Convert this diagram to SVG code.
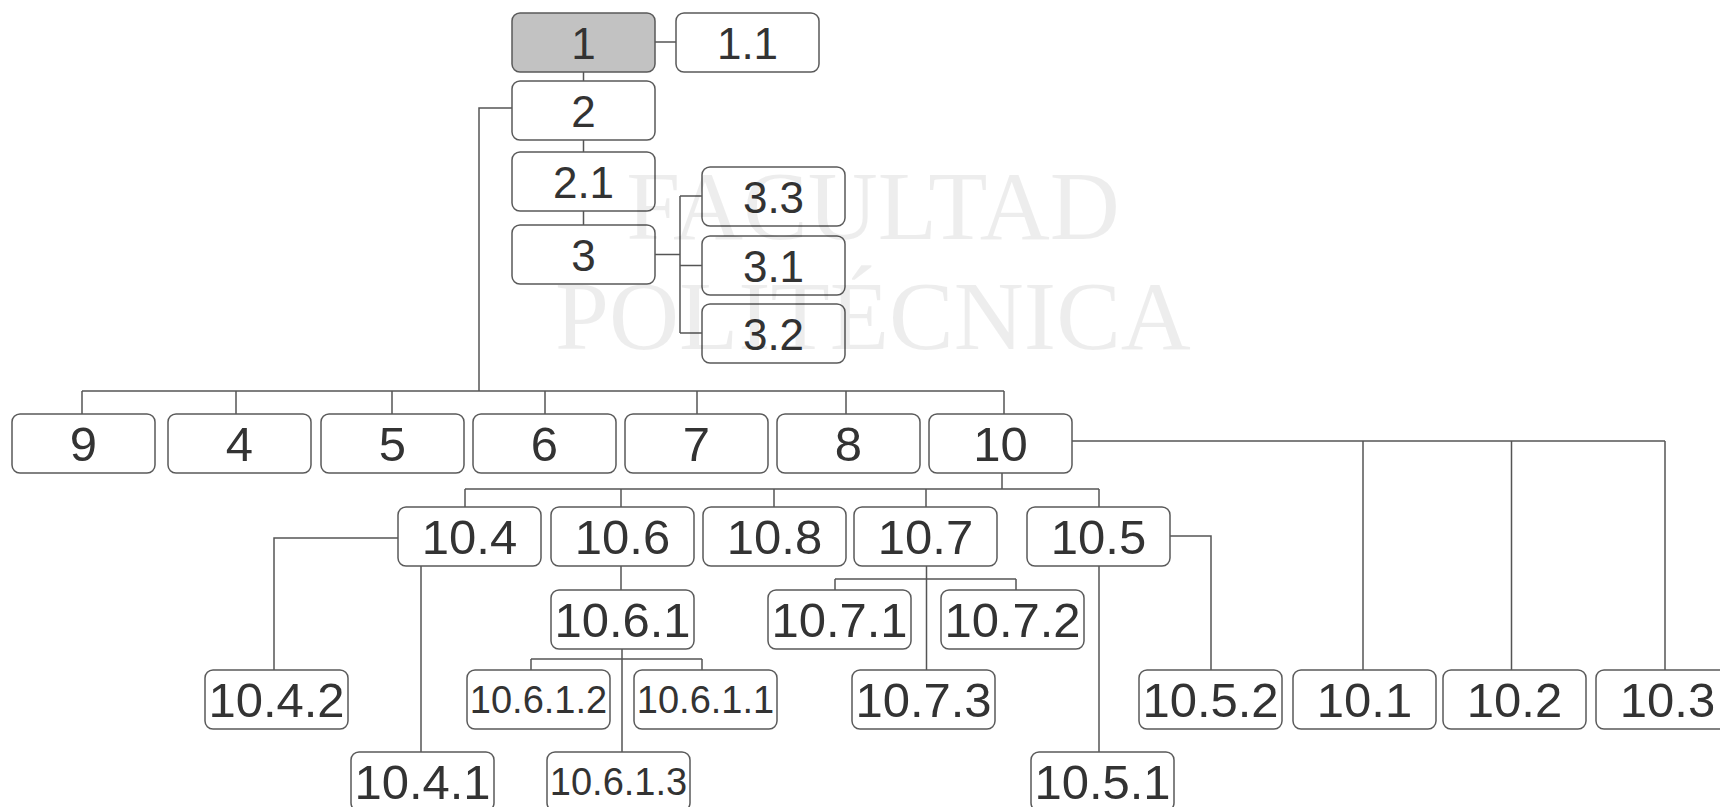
<svg xmlns="http://www.w3.org/2000/svg" width="1720" height="807" viewBox="0 0 1720 807">
<style>
.b{fill:#fff;stroke:#5a5a5a;stroke-width:1.5}
.g{fill:#c2c2c2}
.t{font-family:"Liberation Sans",Arial,sans-serif;fill:#333;text-anchor:middle}
.L{font-size:44px}
.M{font-size:49px}
.S{font-size:38px}
.c{fill:none;stroke:#555;stroke-width:1.5}
.w{font-family:"Liberation Serif","Times New Roman",serif;fill:#000;fill-opacity:0.07;text-anchor:middle;font-size:97px}
</style>
<rect width="1720" height="807" fill="#fff"/>
<g id="connectors" class="c">
<path d="M655,42H676M583.5,72V81M583.5,140V152M583.5,211V225"/>
<path d="M655,254.5H680M680,196V333M680,196H702M680,265.5H702M680,333H702"/>
<path d="M512,108H479V391M82,391H1004M82,391V414M236,391V414M392,391V414M545,391V414M697,391V414M846,391V414M1004,391V414"/>
<path d="M1002,473V489M465,489H1099M465,489V507M621,489V507M774,489V507M926,489V507M1099,489V507"/>
<path d="M398,538H274V670M421,566V752M621,566V590"/>
<path d="M622,649V752M531,659H702M531,659V670M702,659V670"/>
<path d="M926.5,566V670M835,579H1016M835,579V590M1016,579V590"/>
<path d="M1099,566V752M1169,536H1211V670"/>
<path d="M1072,441H1665M1363,441V670M1511.5,441V670M1665,441V670"/>
</g>
<g id="n1"><rect class="b g" x="512" y="13" width="143" height="59" rx="8"/><text class="t L" x="583.5" y="59">1</text></g>
<g id="n1_1"><rect class="b" x="676" y="13" width="143" height="59" rx="8"/><text class="t L" x="747.5" y="59">1.1</text></g>
<g id="n2"><rect class="b" x="512" y="81" width="143" height="59" rx="8"/><text class="t L" x="583.5" y="127">2</text></g>
<g id="n2_1"><rect class="b" x="512" y="152" width="143" height="59" rx="8"/><text class="t L" x="583.5" y="198">2.1</text></g>
<g id="n3"><rect class="b" x="512" y="225" width="143" height="59" rx="8"/><text class="t L" x="583.5" y="271">3</text></g>
<g id="n3_3"><rect class="b" x="702" y="167" width="143" height="59" rx="8"/><text class="t L" x="773.5" y="213">3.3</text></g>
<g id="n3_1"><rect class="b" x="702" y="236" width="143" height="59" rx="8"/><text class="t L" x="773.5" y="282">3.1</text></g>
<g id="n3_2"><rect class="b" x="702" y="304" width="143" height="59" rx="8"/><text class="t L" x="773.5" y="350">3.2</text></g>
<g id="n9"><rect class="b" x="12" y="414" width="143" height="59" rx="8"/><text class="t M" x="83.5" y="461">9</text></g>
<g id="n4"><rect class="b" x="168" y="414" width="143" height="59" rx="8"/><text class="t M" x="239.5" y="461">4</text></g>
<g id="n5"><rect class="b" x="321" y="414" width="143" height="59" rx="8"/><text class="t M" x="392.5" y="461">5</text></g>
<g id="n6"><rect class="b" x="473" y="414" width="143" height="59" rx="8"/><text class="t M" x="544.5" y="461">6</text></g>
<g id="n7"><rect class="b" x="625" y="414" width="143" height="59" rx="8"/><text class="t M" x="696.5" y="461">7</text></g>
<g id="n8"><rect class="b" x="777" y="414" width="143" height="59" rx="8"/><text class="t M" x="848.5" y="461">8</text></g>
<g id="n10"><rect class="b" x="929" y="414" width="143" height="59" rx="8"/><text class="t M" x="1000.5" y="461">10</text></g>
<g id="n10_4"><rect class="b" x="398" y="507" width="143" height="59" rx="8"/><text class="t M" x="469.5" y="554">10.4</text></g>
<g id="n10_6"><rect class="b" x="551" y="507" width="143" height="59" rx="8"/><text class="t M" x="622.5" y="554">10.6</text></g>
<g id="n10_8"><rect class="b" x="703" y="507" width="143" height="59" rx="8"/><text class="t M" x="774.5" y="554">10.8</text></g>
<g id="n10_7"><rect class="b" x="854" y="507" width="143" height="59" rx="8"/><text class="t M" x="925.5" y="554">10.7</text></g>
<g id="n10_5"><rect class="b" x="1027" y="507" width="143" height="59" rx="8"/><text class="t M" x="1098.5" y="554">10.5</text></g>
<g id="n10_6_1"><rect class="b" x="551" y="590" width="143" height="59" rx="8"/><text class="t M" x="622.5" y="637">10.6.1</text></g>
<g id="n10_7_1"><rect class="b" x="768" y="590" width="143" height="59" rx="8"/><text class="t M" x="839.5" y="637">10.7.1</text></g>
<g id="n10_7_2"><rect class="b" x="941" y="590" width="143" height="59" rx="8"/><text class="t M" x="1012.5" y="637">10.7.2</text></g>
<g id="n10_4_2"><rect class="b" x="205" y="670" width="143" height="59" rx="8"/><text class="t M" x="276.5" y="717">10.4.2</text></g>
<g id="n10_6_1_2"><rect class="b" x="467" y="670" width="143" height="59" rx="8"/><text class="t S" x="538.5" y="713">10.6.1.2</text></g>
<g id="n10_6_1_1"><rect class="b" x="634" y="670" width="143" height="59" rx="8"/><text class="t S" x="705.5" y="713">10.6.1.1</text></g>
<g id="n10_7_3"><rect class="b" x="852" y="670" width="143" height="59" rx="8"/><text class="t M" x="923.5" y="717">10.7.3</text></g>
<g id="n10_5_2"><rect class="b" x="1139" y="670" width="143" height="59" rx="8"/><text class="t M" x="1210.5" y="717">10.5.2</text></g>
<g id="n10_1"><rect class="b" x="1293" y="670" width="143" height="59" rx="8"/><text class="t M" x="1364.5" y="717">10.1</text></g>
<g id="n10_2"><rect class="b" x="1443" y="670" width="143" height="59" rx="8"/><text class="t M" x="1514.5" y="717">10.2</text></g>
<g id="n10_3"><rect class="b" x="1596" y="670" width="143" height="59" rx="8"/><text class="t M" x="1667.5" y="717">10.3</text></g>
<g id="n10_4_1"><rect class="b" x="351" y="752" width="143" height="59" rx="8"/><text class="t M" x="422.5" y="799">10.4.1</text></g>
<g id="n10_6_1_3"><rect class="b" x="547" y="752" width="143" height="59" rx="8"/><text class="t S" x="618.5" y="795">10.6.1.3</text></g>
<g id="n10_5_1"><rect class="b" x="1031" y="752" width="143" height="59" rx="8"/><text class="t M" x="1102.5" y="799">10.5.1</text></g>
<g id="watermark">
<text class="w" x="873" y="239">FACULTAD</text>
<text class="w" x="873" y="349">POLITÉCNICA</text>
</g>
</svg>
